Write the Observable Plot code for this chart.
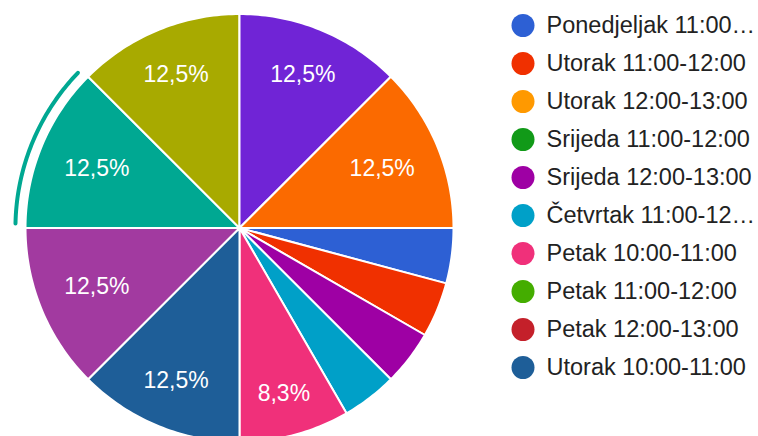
<!DOCTYPE html>
<html>
<head>
<meta charset="utf-8">
<script src="https://cdn.jsdelivr.net/npm/d3@7"></script>
<script src="https://cdn.jsdelivr.net/npm/@observablehq/plot@0.6"></script>
<style>
  html, body { margin: 0; padding: 0; background: #fff; }
  #wrap { position: relative; width: 758px; height: 436px; overflow: hidden; }
  #pie { position: absolute; left: 0; top: 0; }
  #legend { position: absolute; left: 500px; top: 0; }
</style>
</head>
<body>
<div id="wrap"><div id="pie"></div><div id="legend"></div></div>
<script>
// Categories in data order (first 10 are those visible in the legend)
const categories = [
  "Ponedjeljak 11:00-12:00", "Utorak 11:00-12:00", "Utorak 12:00-13:00",
  "Srijeda 11:00-12:00", "Srijeda 12:00-13:00", "Četvrtak 11:00-12:00",
  "Petak 10:00-11:00", "Petak 11:00-12:00", "Petak 12:00-13:00",
  "Utorak 10:00-11:00", "Ponedjeljak 10:00-11:00", "Ponedjeljak 12:00-13:00",
  "Srijeda 10:00-11:00", "Četvrtak 10:00-11:00", "Četvrtak 12:00-13:00"
];
// Number of responses per category
const counts = [1, 1, 0, 0, 1, 1, 2, 0, 0, 3, 3, 3, 3, 3, 3];
const colors = [
  "#2d60d4", "#f03000", "#ff9900", "#119a18", "#9e00a4", "#00a0c8",
  "#f0307a", "#44ad00", "#c4202a", "#1e5e98", "#a23aa0", "#00a892",
  "#a8aa00", "#7024d6", "#fb6a00"
];
// Legend (first page, as shown, with truncated labels)
const legendCategories = categories.slice(0, 10);
const legendLabels = [
  "Ponedjeljak 11:00…", "Utorak 11:00-12:00", "Utorak 12:00-13:00",
  "Srijeda 11:00-12:00", "Srijeda 12:00-13:00", "Četvrtak 11:00-12…",
  "Petak 10:00-11:00", "Petak 11:00-12:00", "Petak 12:00-13:00",
  "Utorak 10:00-11:00"
];
const highlighted = "Ponedjeljak 12:00-13:00";

const font = "'Liberation Sans', Arial, sans-serif";
const labelSize = 23, legendSize = 23.5;
const cx = 239, cy = 227.5, R = 214;

const total = d3.sum(counts);
const data = categories.map((c, i) => ({name: c, value: counts[i]}));

const arcs = d3.pie().value(d => d.value).sort(null)
  .startAngle(Math.PI / 2).endAngle(Math.PI / 2 + 2 * Math.PI)(data)
  .filter(a => a.data.value > 0);

// polygon points in unit coordinates (radius 1)
const polys = [];
for (const a of arcs) {
  const n = Math.max(2, Math.ceil((a.endAngle - a.startAngle) / (Math.PI / 180)));
  polys.push({name: a.data.name, px: 0, py: 0});
  for (let k = 0; k <= n; k++) {
    const t = a.startAngle + (a.endAngle - a.startAngle) * k / n;
    polys.push({name: a.data.name, px: Math.sin(t), py: Math.cos(t)});
  }
  polys.push({name: a.data.name, px: 0, py: 0});
}

// labels: placed along the mid-angle so the outer corner of the text box sits at a fixed radius
const ctx = document.createElement("canvas").getContext("2d");
ctx.font = `${labelSize}px ${font}`;
const fmt = v => d3.format(".1f")(v).replace(".", ",") + "%";
const D = 0.878 * R, hh = 8.5;
const labels = arcs
  .filter(a => a.data.value / total >= 0.05)
  .map(a => {
    const m = (a.startAngle + a.endAngle) / 2;
    const text = fmt(100 * a.data.value / total);
    const hw = ctx.measureText(text).width / 2;
    const ux = Math.sin(m), uy = Math.cos(m);
    const b = Math.abs(ux) * hw + Math.abs(uy) * hh;
    const c = hw * hw + hh * hh - D * D;
    const r = (-b + Math.sqrt(b * b - c)) / R;
    return {px: r * ux, py: r * uy, text};
  });

// hover ring around highlighted slice
const hl = arcs.find(a => a.data.name === highlighted);
const ring = [];
if (hl) {
  const a0 = hl.startAngle + 0.02, a1 = hl.endAngle - 0.02;
  for (let k = 0; k <= 60; k++) {
    const t = a0 + (a1 - a0) * k / 60;
    ring.push({px: 1.047 * Math.sin(t), py: 1.047 * Math.cos(t)});
  }
}

const colorScale = {type: "ordinal", domain: categories, range: colors};

const pie = Plot.plot({
  width: 500, height: 436,
  margin: 0,
  x: {domain: [-1, 1], range: [cx - R, cx + R], axis: null},
  y: {domain: [-1, 1], range: [cy + R, cy - R], axis: null},
  color: colorScale,
  style: {fontFamily: font, background: "white", overflow: "hidden"},
  marks: [
    Plot.line(polys, {x: "px", y: "py", z: "name", fill: "name", stroke: "white", strokeWidth: 2, strokeLinejoin: "round", curve: "linear"}),
    Plot.line(ring, {x: "px", y: "py", stroke: colors[categories.indexOf(highlighted)], strokeWidth: 4}),
    Plot.text(labels, {x: "px", y: "py", text: "text", fill: "white", fontSize: labelSize, fontFamily: font})
  ]
});
document.getElementById("pie").appendChild(pie);

const legend = Plot.plot({
  width: 258, height: 436,
  margin: 0,
  x: {domain: [0, 258], range: [0, 258], axis: null},
  y: {type: "point", domain: legendCategories, range: [24, 367], padding: 0, axis: null},
  color: colorScale,
  style: {fontFamily: font, background: "white"},
  marks: [
    Plot.dot(legendCategories, {x: () => 22.5, y: d => d, r: 11.5, fill: d => d, stroke: null}),
    Plot.text(legendCategories, {x: () => 46, y: d => d, text: (d, i) => legendLabels[i], textAnchor: "start", fontSize: legendSize, fill: "#222", fontFamily: font})
  ]
});
document.getElementById("legend").appendChild(legend);
</script>
</body>
</html>
